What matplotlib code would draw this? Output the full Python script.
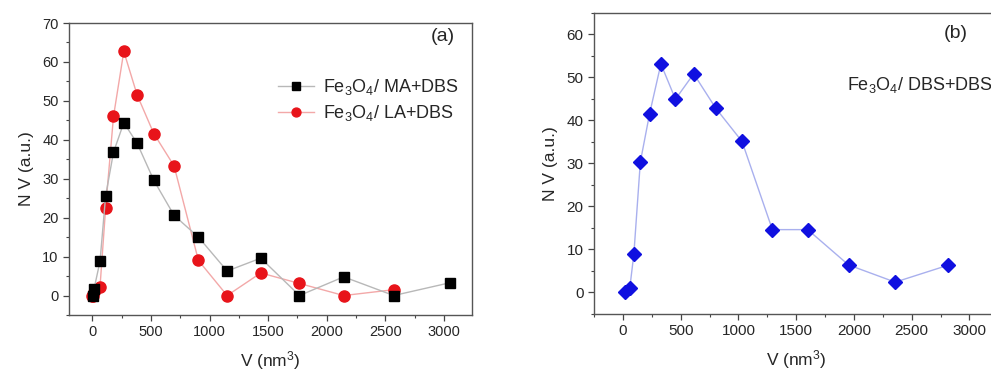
import matplotlib
matplotlib.use("Agg")
import matplotlib.pyplot as plt
from matplotlib.ticker import MultipleLocator

plt.rcParams['font.family'] = ['Liberation Sans', 'DejaVu Sans']
plt.rcParams['mathtext.default'] = 'regular'
plt.rcParams['text.color'] = '#262626'
plt.rcParams['axes.labelcolor'] = '#262626'
plt.rcParams['xtick.color'] = '#444444'
plt.rcParams['ytick.color'] = '#444444'
plt.rcParams['xtick.labelcolor'] = '#262626'
plt.rcParams['ytick.labelcolor'] = '#262626'

# (a) Fe3O4/MA+DBS and Fe3O4/LA+DBS
v_ma = [4, 14, 65, 113, 180, 268, 382, 524, 697, 905, 1150, 1437, 1767, 2145, 2572, 3054]
nv_ma = [0, 1.7, 8.8, 25.6, 36.8, 44.4, 39.1, 29.6, 20.6, 15.0, 6.3, 9.6, 0, 4.8, 0, 3.3]
v_la = [0.5, 4, 14, 65, 113, 180, 268, 382, 524, 697, 905, 1150, 1437, 1767, 2145, 2572]
nv_la = [0, 0, 1.0, 2.3, 22.5, 46.0, 62.7, 51.5, 41.6, 33.3, 9.0, 0, 5.8, 3.1, 0, 1.5]

# (b) Fe3O4/DBS+DBS
v_dbs = [14, 60, 95, 151, 231, 329, 455, 613, 804, 1031, 1294, 1600, 1953, 2357, 2811]
nv_dbs = [0, 1.1, 8.9, 30.3, 41.5, 53.1, 44.9, 50.8, 42.8, 35.1, 14.6, 14.6, 6.4, 2.4, 6.3]

fig = plt.figure(figsize=(9.91, 3.73), dpi=100)
ax1 = fig.add_axes([0.0696, 0.1555, 0.4067, 0.7828])
ax2 = fig.add_axes([0.5994, 0.1582, 0.408, 0.8078])


def style_axes(ax, tick_size):
    for s in ax.spines.values():
        s.set_color('#555555')
        s.set_linewidth(1.0)
    ax.xaxis.set_minor_locator(MultipleLocator(250))
    ax.yaxis.set_minor_locator(MultipleLocator(5))
    ax.tick_params(which='major', direction='out', length=4, width=0.9, labelsize=tick_size)
    ax.tick_params(which='minor', direction='out', length=2.5, width=0.8)
    ax.tick_params(top=False, right=False, which='both')
    ax.set_xlabel('V (nm$^3$)', fontsize=12.5, labelpad=7)
    ax.set_ylabel('N V (a.u.)', fontsize=12.5, labelpad=6)


ax1.plot(v_ma, nv_ma, color='#b8b8b8', lw=1.0, marker='s', ms=7,
         mfc='black', mec='black', label='Fe$_3$O$_4$/ MA+DBS', zorder=3)
ax1.plot(v_la, nv_la, color='#f3a8a8', lw=1.0, marker='o', ms=8,
         mfc='#e8141a', mec='#e8141a', label='Fe$_3$O$_4$/ LA+DBS', zorder=2)
ax1.set_xlim(-200, 3240)
ax1.set_ylim(-5, 70)
ax1.xaxis.set_major_locator(MultipleLocator(500))
ax1.yaxis.set_major_locator(MultipleLocator(10))
style_axes(ax1, 10.5)
ax1.text(0.958, 0.955, '(a)', transform=ax1.transAxes, ha='right', va='center', fontsize=14)
ax1.legend(loc='upper left', bbox_to_anchor=(0.5, 0.84), frameon=False, fontsize=13,
           handlelength=2.0, handletextpad=0.5, labelspacing=0.35, markerscale=0.8,
           borderaxespad=0.0)

ax2.plot(v_dbs, nv_dbs, color='#a9b0ee', lw=1.0, marker='D', ms=7,
         mfc='#1010e0', mec='#1010e0', zorder=3)
ax2.set_xlim(-250, 3250)
ax2.set_ylim(-5, 65)
ax2.xaxis.set_major_locator(MultipleLocator(500))
ax2.yaxis.set_major_locator(MultipleLocator(10))
style_axes(ax2, 11)
ax2.text(0.925, 0.93, '(b)', transform=ax2.transAxes, ha='right', va='center', fontsize=14)
ax2.text(0.625, 0.76, 'Fe$_3$O$_4$/ DBS+DBS', transform=ax2.transAxes, ha='left',
         va='center', fontsize=13)

fig.savefig('out.png', dpi=100)
